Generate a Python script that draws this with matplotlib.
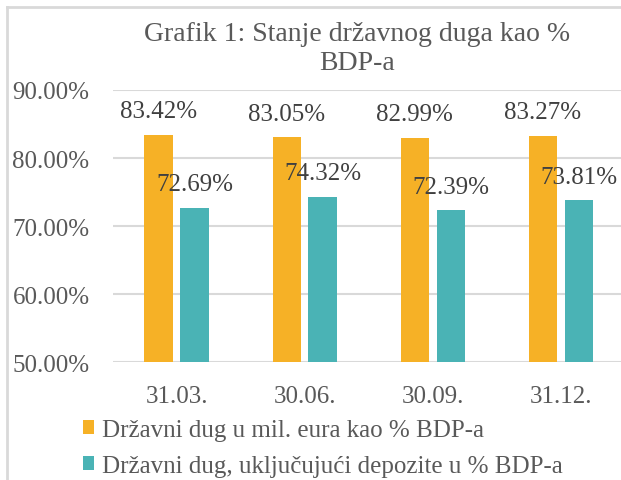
import numpy as np
import matplotlib
matplotlib.use("Agg")
import matplotlib.pyplot as plt
from matplotlib.patches import Patch
from matplotlib.lines import Line2D

categories = ["31.03.", "30.06.", "30.09.", "31.12."]
dug_mil_eura = [83.42, 83.05, 82.99, 83.27]
dug_sa_depozitima = [72.69, 74.32, 72.39, 73.81]
series_names = ["Državni dug u mil. eura kao % BDP-a",
                "Državni dug, uključujući depozite u % BDP-a"]
title = "Grafik 1: Stanje državnog duga kao %\nBDP-a"

orange = "#F6B126"
teal = "#4AB3B5"
text_gray = "#595959"
label_gray = "#404040"
grid_gray = "#D9D9D9"

plt.rcParams["font.family"] = ["Liberation Serif", "DejaVu Serif"]

W, H = 621, 481
fig = plt.figure(figsize=(W / 100, H / 100), dpi=100)

# plot area in pixel coordinates
left, right, top, bottom = 112.5, 625.0, 91.0, 363.3
ax = fig.add_axes([left / W, 1 - bottom / H, (right - left) / W, (bottom - top) / H])

x = np.arange(len(categories))
w = 0.222
off = 0.14
ax.bar(x - off, np.array(dug_mil_eura) - 50, w, bottom=50, color=orange, zorder=3)
ax.bar(x + off, np.array(dug_sa_depozitima) - 50, w, bottom=50, color=teal, zorder=3)

fs = 18
for xs, vals in ((x - off, dug_mil_eura), (x + off, dug_sa_depozitima)):
    for xi, v in zip(xs, vals):
        ax.annotate(f"{v:.2f}%", (xi, v), xytext=(0, 12.5), textcoords="offset points",
                    ha="center", va="baseline", fontsize=fs, color=label_gray, zorder=4)

ax.set_xlim(-0.5, len(categories) - 0.5)
ax.set_ylim(50, 90)
ax.set_yticks([50, 60, 70, 80, 90])
ax.set_yticklabels([f"{t:.2f}%" for t in [50, 60, 70, 80, 90]])
ax.set_xticks(x)
ax.set_xticklabels(categories)
ax.tick_params(axis="both", length=0, labelsize=fs, labelcolor=text_gray)
ax.tick_params(axis="y", pad=16.5)
ax.tick_params(axis="x", pad=16)
ax.grid(axis="y", color=grid_gray, linewidth=1.5, zorder=0)
for s in ax.spines.values():
    s.set_visible(False)

fig.text(357 / W, 1 - 22 / H, title, ha="center", va="top", fontsize=20,
         color=text_gray, linespacing=1.2, multialignment="center")

handles = [Patch(facecolor=orange), Patch(facecolor=teal)]
fig.legend(handles, series_names, loc="upper left", bbox_to_anchor=(83 / W, 1 - 420 / H),
           frameon=False, fontsize=fs, labelcolor=text_gray, handlelength=0.45,
           handleheight=0.45, handletextpad=0.3, labelspacing=0.55, borderpad=0,
           borderaxespad=0)

# outer chart frame (top and left edges visible)
fig.add_artist(Line2D([7 / W, 1], [1 - 8 / H, 1 - 8 / H], color=grid_gray, linewidth=2))
fig.add_artist(Line2D([7 / W, 7 / W], [0, 1 - 8 / H], color=grid_gray, linewidth=2))

fig.savefig("out.png", dpi=100, facecolor="white")
